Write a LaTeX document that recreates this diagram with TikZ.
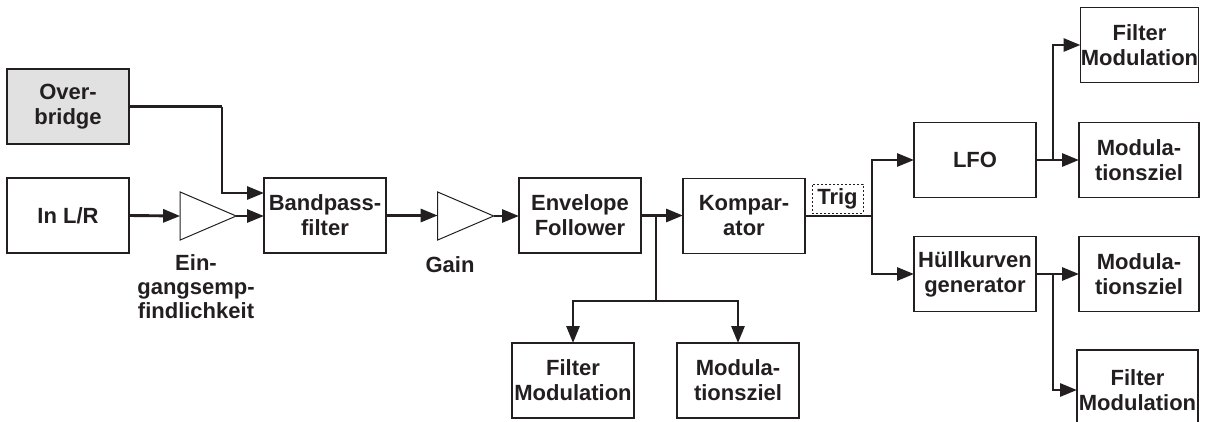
\documentclass[tikz,border=0pt]{standalone}
\usepackage{fontspec}
\setmainfont{Liberation Sans}
\usetikzlibrary{arrows.meta,shapes.geometric}
\definecolor{ink}{RGB}{35,31,32}
\definecolor{obfill}{RGB}{225,225,226}
\tikzset{
  blk/.style={draw=ink, line width=1.3pt, inner sep=0pt, outer sep=0pt, minimum width=122pt, minimum height=75pt, align=center, text=ink, font=\fontsize{22}{25}\selectfont\bfseries},
  amp/.style={draw=ink, line width=1pt, isosceles triangle, isosceles triangle stretches, minimum width=48pt, minimum height=56pt, inner sep=0pt, outer sep=0pt},
  lbl/.style={align=center, text=ink, font=\fontsize{22}{24}\selectfont\bfseries, inner sep=0pt},
  conn/.style={draw=ink, line width=2.9pt},
  arr/.style={conn, -{Triangle[length=17pt,width=13pt]}},
  trigbox/.style={draw=ink, line width=1pt, dash pattern=on 2.2pt off 1.8pt, minimum width=51pt, minimum height=29pt, inner sep=0pt, text=ink, font=\fontsize{22}{25}\selectfont\bfseries}
}
\begin{document}
\begin{tikzpicture}[x=1pt,y=-1pt]
\useasboundingbox (0,0) rectangle (1205,421);
\clip (0,0) rectangle (1205,421);
% boxes
\node[blk, fill=obfill] (ob) at (68,106.5) {Over-\\bridge};
\node[blk] (inlr) at (68,215.5) {In L/R};
\node[amp] (t1) at (196,216) {};
\node[blk] (bp) at (325,215.5) {Bandpass-\\filter};
\node[amp] (t2) at (453.5,216) {};
\node[blk] (env) at (580,215.5) {Envelope\\Follower};
\node[blk] (komp) at (744,216) {Kompar-\\ator};
\node[blk] (fm1) at (573,380.5) {Filter\\Modulation};
\node[blk] (mz1) at (738,380.5) {Modula-\\tionsziel};
\node[trigbox] (trig) at (837.5,198.5) {Trig};
\node[blk] (lfo) at (975,160) {LFO};
\node[blk] (hk) at (975,274) {Hüllkurven\\generator};
\node[blk, minimum width=118pt] (fm2) at (1139.5,45) {Filter\\Modulation};
\node[blk, minimum width=120pt] (mz2) at (1139,160) {Modula-\\tionsziel};
\node[blk, minimum width=120pt] (mz3) at (1139,274) {Modula-\\tionsziel};
\node[blk, minimum width=121pt, minimum height=80pt] (fm3) at (1137.5,390) {Filter\\Modulation};
% labels
\node[lbl, anchor=north] (ein) at (196,254) {Ein-\\gangsemp-\\findlichkeit};
\node[lbl, anchor=base] (gain) at (450,272) {Gain};
% junction coordinates
\coordinate (obj) at (222,106.5);
\coordinate (bpin) at (264,193);
\coordinate (ej) at (656,215.5);
\coordinate (ejd) at (656,301);
\coordinate (tj) at (872,216);
\coordinate (lj) at (1053,160);
\coordinate (hj) at (1053,274);
% connectors
\draw[conn] (ob.east) -- (obj);
\draw[arr] (obj) |- (bpin);
\draw[arr] (inlr.east) -- (t1.west);
\draw[arr] (t1.apex) -- (t1.apex -| bp.west);
\draw[arr] (bp.east) -- (bp.east -| t2.west);
\draw[arr] (t2.apex) -- (t2.apex -| env.west);
\draw[arr] (env.east) -- (env.east -| komp.west);
\draw[conn] (ej) -- (ejd);
\draw[arr] (ejd) -| (fm1.north);
\draw[arr] (ejd) -| (mz1.north);
\draw[conn] (komp.east |- tj) -- (tj);
\draw[arr] (tj) |- (lfo.west);
\draw[arr] (tj) |- (hk.west);
\draw[arr] (lfo.east) -- (mz2.west);
\draw[arr] (lj) |- (fm2.west);
\draw[arr] (hk.east) -- (mz3.west);
\draw[arr] (hj) |- (fm3.west);
\end{tikzpicture}
\end{document}
